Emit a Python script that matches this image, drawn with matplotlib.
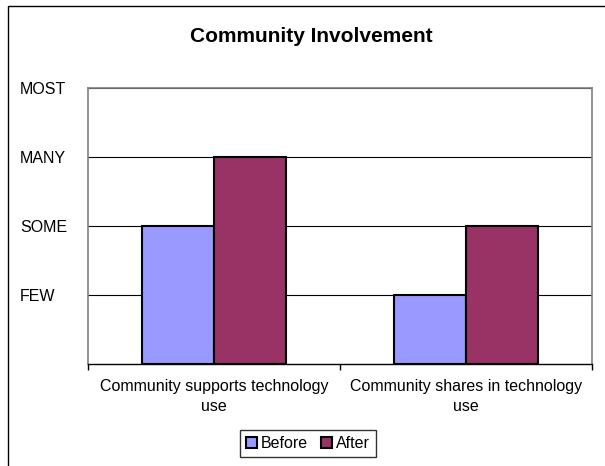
import matplotlib.pyplot as plt
from matplotlib.patches import Rectangle
import numpy as np

# data
categories = ["Community supports technology\nuse", "Community shares in technology\nuse"]
before = [2, 1]
after = [3, 2]
level_labels = ["FEW", "SOME", "MANY", "MOST"]
level_values = [1, 2, 3, 4]

W, H = 605, 466
fig = plt.figure(figsize=(W / 100, H / 100), dpi=100)
plt.rcParams['font.family'] = ['Liberation Sans', 'DejaVu Sans']

# outer chart frame (clipped at right/bottom like the original)
fig.patches.append(Rectangle((8 / W, -0.1), 1.2, 1 - 6 / H + 0.1,
                             transform=fig.transFigure, fill=False,
                             edgecolor='black', linewidth=1.0))

# plot area in pixels
left, right, top, bottom = 88, 592, 88, 364
ax = fig.add_axes([left / W, (H - bottom) / H, (right - left) / W, (bottom - top) / H])

x = np.arange(len(categories))
w = 0.286
ax.bar(x - w / 2, before, w, color='#9999FF', edgecolor='black', linewidth=1.5,
       label='Before', zorder=3)
ax.bar(x + w / 2, after, w, color='#993366', edgecolor='black', linewidth=1.5,
       label='After', zorder=3)

ax.set_xlim(-0.5, len(categories) - 0.5)
ax.set_ylim(0, 4)

ax.set_yticks(level_values)
ax.set_yticklabels(level_labels, fontsize=11.5, ha='left')
ax.tick_params(axis='y', length=0, pad=(left - 20) * 0.72)
ax.yaxis.grid(True, color='black', linewidth=0.8, zorder=0)

ax.set_xticks([-0.5, 0.5, 1.5], minor=False)
ax.set_xticklabels([])
ax.tick_params(axis='x', which='major', length=4, width=1, color='black', direction='out')
ax.set_xticks(x, minor=True)
ax.set_xticklabels(categories, minor=True, fontsize=11.5, linespacing=1.4)
ax.tick_params(axis='x', which='minor', length=0, pad=11)

for side in ['left', 'right', 'top']:
    ax.spines[side].set_color('#808080')
    ax.spines[side].set_linewidth(1.2)
ax.spines['bottom'].set_color('black')
ax.spines['bottom'].set_linewidth(1.0)

fig.text(311 / W, 1 - 37 / H, "Community Involvement", ha='center', va='center',
         fontsize=15, fontweight='bold')

leg = fig.legend(loc='center', bbox_to_anchor=(308 / W, 1 - 443.5 / H), ncol=2,
                 fontsize=11.5, frameon=True, fancybox=False, handlelength=0.7,
                 handleheight=0.7, handletextpad=0.25, columnspacing=0.8,
                 borderpad=0.4, edgecolor='black')
leg.get_frame().set_linewidth(1.0)

fig.savefig('out.png', dpi=100)
